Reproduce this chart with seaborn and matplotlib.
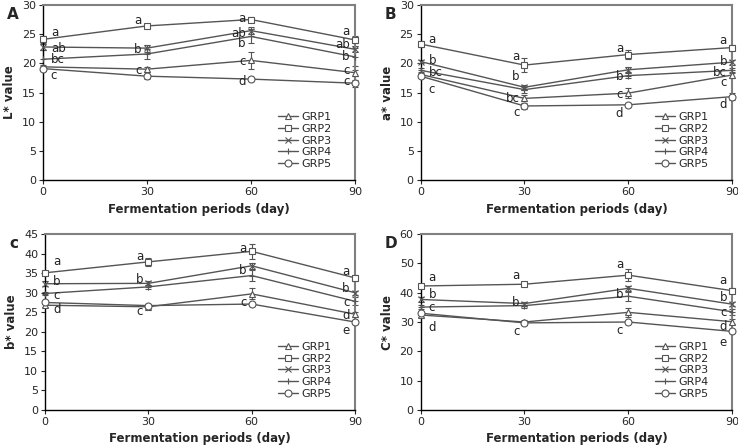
import numpy as np
import pandas as pd
import matplotlib
matplotlib.use("Agg")
import matplotlib.pyplot as plt
import seaborn as sns

sns.set_style("white")
plt.rcParams['font.family'] = ['DejaVu Sans']

days = [0, 30, 60, 90]
groups = ['GRP1', 'GRP2', 'GRP3', 'GRP4', 'GRP5']
markers = ['^', 's', 'x', '+', 'o']

# L* value
L_vals = {
    'GRP1': [19.4, 19.0, 20.5, 18.4],
    'GRP2': [24.1, 26.4, 27.5, 24.0],
    'GRP3': [22.8, 22.6, 25.6, 22.4],
    'GRP4': [20.7, 21.6, 24.6, 21.1],
    'GRP5': [19.1, 17.8, 17.3, 16.6],
}
L_err = {
    'GRP1': [0.4, 0.4, 1.4, 0.5],
    'GRP2': [0.6, 0.4, 0.4, 0.6],
    'GRP3': [0.5, 0.6, 0.6, 0.5],
    'GRP4': [1.6, 0.9, 1.2, 1.5],
    'GRP5': [0.4, 0.4, 0.3, 0.6],
}
# a* value
a_vals = {
    'GRP1': [18.1, 14.0, 14.9, 18.0],
    'GRP2': [23.3, 19.7, 21.5, 22.7],
    'GRP3': [20.3, 15.9, 18.9, 20.2],
    'GRP4': [18.8, 15.5, 17.9, 18.8],
    'GRP5': [17.8, 12.7, 12.9, 14.3],
}
a_err = {
    'GRP1': [0.4, 0.5, 0.9, 0.5],
    'GRP2': [0.5, 1.2, 0.7, 0.4],
    'GRP3': [0.3, 0.4, 0.4, 0.4],
    'GRP4': [0.4, 0.5, 0.4, 0.4],
    'GRP5': [0.3, 0.5, 0.3, 0.6],
}
# b* value
b_vals = {
    'GRP1': [26.8, 26.4, 29.7, 24.5],
    'GRP2': [35.1, 37.9, 40.6, 33.8],
    'GRP3': [32.3, 32.4, 36.9, 30.0],
    'GRP4': [29.8, 31.5, 34.4, 27.8],
    'GRP5': [27.5, 26.7, 27.1, 22.5],
}
b_err = {
    'GRP1': [0.5, 0.4, 1.4, 0.6],
    'GRP2': [0.5, 1.0, 2.0, 0.8],
    'GRP3': [0.6, 0.5, 0.8, 0.5],
    'GRP4': [0.5, 0.5, 1.3, 1.0],
    'GRP5': [0.4, 0.5, 0.4, 0.5],
}
# C* value
C_vals = {
    'GRP1': [32.4, 30.0, 33.3, 30.1],
    'GRP2': [42.3, 42.9, 46.0, 40.7],
    'GRP3': [37.7, 36.3, 41.5, 36.1],
    'GRP4': [35.1, 35.6, 38.8, 33.5],
    'GRP5': [33.0, 29.7, 30.0, 26.8],
}
C_err = {
    'GRP1': [0.6, 0.6, 1.6, 0.8],
    'GRP2': [0.6, 0.7, 2.1, 0.9],
    'GRP3': [0.7, 0.7, 0.8, 0.7],
    'GRP4': [0.7, 0.8, 1.5, 1.0],
    'GRP5': [0.5, 0.6, 0.4, 0.6],
}

# significance letters per day: (letter, y position)
L_letters = {
    0: [('a', 25.3), ('ab', 22.6), ('bc', 20.7), ('c', 18.0)],
    30: [('a', 27.3), ('b', 22.3), ('c', 18.7)],
    60: [('a', 27.6), ('ab', 25.1), ('b', 23.4), ('c', 20.3), ('d', 16.9)],
    90: [('a', 25.4), ('ab', 23.3), ('b', 21.1), ('c', 18.7), ('c', 16.9)],
}
a_letters = {
    0: [('a', 24.1), ('b', 20.4), ('bc', 18.4), ('c', 15.5)],
    30: [('a', 21.1), ('b', 17.8), ('bc', 14.0), ('c', 11.5)],
    60: [('a', 22.6), ('b', 17.8), ('c', 14.7), ('d', 11.4)],
    90: [('a', 23.9), ('b', 20.3), ('bc', 18.4), ('c', 16.7), ('d', 12.9)],
}
b_letters = {
    0: [('a', 37.9), ('b', 32.9), ('c', 29.4), ('d', 25.7)],
    30: [('a', 39.2), ('b', 33.3), ('c', 25.1)],
    60: [('a', 41.3), ('b', 35.6), ('c', 27.4)],
    90: [('a', 35.4), ('b', 31.1), ('c', 27.5), ('d', 24.1), ('e', 20.3)],
}
C_letters = {
    0: [('a', 45.3), ('b', 39.3), ('c', 34.8), ('d', 28.0)],
    30: [('a', 45.9), ('b', 36.8), ('c', 26.8)],
    60: [('a', 49.5), ('b', 39.3), ('c', 27.2)],
    90: [('a', 44.2), ('b', 38.5), ('c', 33.2), ('d', 28.5), ('e', 22.9)],
}

panels = [
    ('A', 'L* value', L_vals, L_err, L_letters, 30, 5, [0.058, 0.596, 0.423, 0.393]),
    ('B', 'a* value', a_vals, a_err, a_letters, 30, 5, [0.570, 0.596, 0.422, 0.393]),
    ('c', 'b* value', b_vals, b_err, b_letters, 45, 5, [0.061, 0.081, 0.420, 0.394]),
    ('D', 'C* value', C_vals, C_err, C_letters, 60, 10, [0.570, 0.081, 0.422, 0.394]),
]

line_col = '#555555'
fig = plt.figure(figsize=(7.38, 4.46), dpi=100)

for tag, ylab, vals, errs, letters, ymax, ystep, pos in panels:
    ax = fig.add_axes(pos)
    for g, m in zip(groups, markers):
        df = pd.DataFrame({'day': days, 'value': vals[g]})
        sns.lineplot(data=df, x='day', y='value', ax=ax, color=line_col, lw=1.0,
                     marker=m, markersize=5, markerfacecolor='white',
                     markeredgecolor=line_col, markeredgewidth=0.8,
                     label=g, clip_on=False, zorder=3)
        ax.errorbar(days, vals[g], yerr=errs[g], fmt='none', ecolor=line_col,
                    elinewidth=0.8, capsize=2.2, capthick=0.8, clip_on=False, zorder=2)
    for d, items in letters.items():
        for txt, y in items:
            if d == 0:
                ax.text(2.3, y, txt, ha='left', va='center', fontsize=8.5, color='#222222')
            else:
                ax.text(d - 1.5, y, txt, ha='right', va='center', fontsize=8.5, color='#222222')
    ax.set_xlim(0, 90)
    ax.set_ylim(0, ymax)
    ax.set_xticks(days)
    ax.set_yticks(np.arange(0, ymax + 1, ystep))
    ax.tick_params(axis='both', labelsize=8, direction='out', length=3, width=0.8,
                   left=True, bottom=True, pad=2)
    ax.set_xlabel('Fermentation periods (day)', fontsize=8.5, fontweight='bold', labelpad=4)
    ax.set_ylabel(ylab, fontsize=8.5, fontweight='bold', labelpad=4)
    for s in ['left', 'bottom']:
        ax.spines[s].set_color('black')
        ax.spines[s].set_linewidth(1.0)
    for s in ['top', 'right']:
        ax.spines[s].set_color('#808080')
        ax.spines[s].set_linewidth(1.5)
    leg = ax.legend(loc='lower right', bbox_to_anchor=(0.95, 0.02), frameon=False,
                    fontsize=8, labelspacing=0.15, handlelength=1.8, handletextpad=0.3,
                    borderpad=0.2)
    ax.text(-0.115, 0.99, tag, transform=ax.transAxes, fontsize=11, fontweight='bold',
            ha='left', va='top')

fig.savefig('out.png', dpi=100)
